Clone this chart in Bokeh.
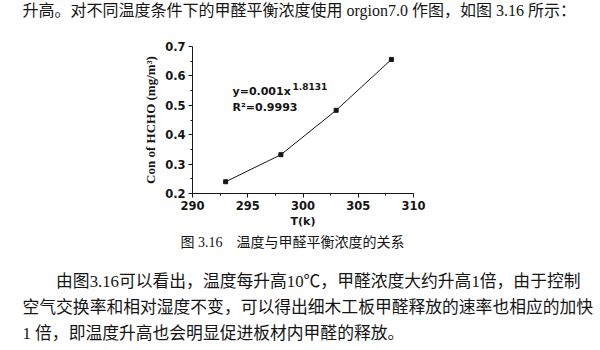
from bokeh.plotting import figure
from bokeh.models import Label, FixedTicker, Title
from bokeh.embed import file_html
from bokeh.resources import INLINE

# data
temps = [293, 298, 303, 308]
conc = [0.24, 0.332, 0.483, 0.656]
x_ticks = [290, 295, 300, 305, 310]
x_minor = [292.5, 297.5, 302.5, 307.5]
y_ticks = [0.2, 0.3, 0.4, 0.5, 0.6, 0.7]
y_minor = [0.25, 0.35, 0.45, 0.55, 0.65]

top_line = "升高。对不同温度条件下的甲醛平衡浓度使用 orgion7.0 作图，如图 3.16 所示："
caption = "图 3.16　温度与甲醛平衡浓度的关系"
para = [
    "　　由图3.16可以看出，温度每升高10℃，甲醛浓度大约升高1倍，由于控制",
    "空气交换率和相对湿度不变，可以得出细木工板甲醛释放的速率也相应的加快",
    "1 倍，即温度升高也会明显促进板材内甲醛的释放。",
]
eq_main = "y=0.001x"
eq_exp = "1.8131"
r2_text = "R²=0.9993"

W, H = 600, 350
FL, FR, FT, FB = 192, 413, 45, 193   # frame in canvas pixels
X0, X1, Y0, Y1 = 290, 310, 0.2, 0.7

ink = "#151515"
sans = "DejaVu Sans"
cjk = "Liberation Serif, Noto Sans CJK SC"

p = figure(width=W, height=H, x_range=(X0, X1), y_range=(Y0, Y1),
           output_backend="svg", toolbar_location=None,
           min_border_left=FL, min_border_right=W - FR,
           min_border_top=FT, min_border_bottom=H - FB)
p.outline_line_color = None
p.xgrid.visible = False
p.ygrid.visible = False
p.background_fill_color = "white"
p.border_fill_color = "white"

for ax in (p.xaxis[0], p.yaxis[0]):
    ax.axis_line_color = ink
    ax.major_tick_line_color = ink
    ax.minor_tick_line_color = ink
    ax.major_tick_in = 0
    ax.major_tick_out = 4
    ax.minor_tick_in = 0
    ax.minor_tick_out = 2
    ax.major_label_text_font = sans
    ax.major_label_text_font_style = "bold"
    ax.major_label_text_font_size = "11.5px"
    ax.major_label_text_color = ink
    ax.major_label_standoff = 3

p.xaxis.ticker = FixedTicker(ticks=x_ticks, minor_ticks=x_minor)
p.yaxis.ticker = FixedTicker(ticks=y_ticks, minor_ticks=y_minor)

p.xaxis.axis_label = "T(k)"
p.xaxis.axis_label_text_font = sans
p.xaxis.axis_label_text_font_style = "bold"
p.xaxis.axis_label_text_font_size = "11px"
p.xaxis.axis_label_text_color = ink
p.xaxis.axis_label_standoff = 2

p.yaxis.axis_label = "Con of HCHO (mg/m³)"
p.yaxis.axis_label_text_font = "Liberation Serif"
p.yaxis.axis_label_text_font_style = "bold"
p.yaxis.axis_label_text_font_size = "13px"
p.yaxis.axis_label_text_color = ink
p.yaxis.axis_label_standoff = 4

p.line(temps, conc, line_color=ink, line_width=1)
p.scatter(temps, conc, marker="square", size=4, fill_color=ink, line_color=ink)


def px(X, Y):
    return (X0 + (X - FL) * (X1 - X0) / (FR - FL),
            Y0 + (FB - Y) * (Y1 - Y0) / (FB - FT))


def lab(X, Y, text, size):
    x, y = px(X, Y)
    p.add_layout(Label(x=x, y=y, text=text, text_font=sans, text_font_size=size,
                       text_font_style="bold", text_color=ink, text_align="left",
                       text_baseline="middle"))


lab(232, 90, eq_main, "11px")
lab(292, 85, eq_exp, "9px")
lab(232, 106, r2_text, "11px")


def title(text, X, size, side, standoff, valign="bottom", lh=1.2):
    t = Title(text=text, align="left", offset=X - FL, standoff=standoff,
              text_font=cjk, text_font_size=size, text_font_style="normal",
              text_color=ink, vertical_align=valign, text_line_height=lh)
    p.add_layout(t, side)


def spacer(side, gap):
    p.add_layout(Title(text=" ", text_font_size="1px", standoff=gap), side)


# above: nearest to the frame first
spacer("above", 22)
title(top_line, 22, "16px", "above", 2, "top")

# below: after the x axis
title(caption, 180, "14px", "below", 4)
spacer("below", 16)
title("\n".join(para), 22, "16.8px", "below", 2, "top", 1.38)

open("out.html", "w").write(file_html(p, INLINE))
